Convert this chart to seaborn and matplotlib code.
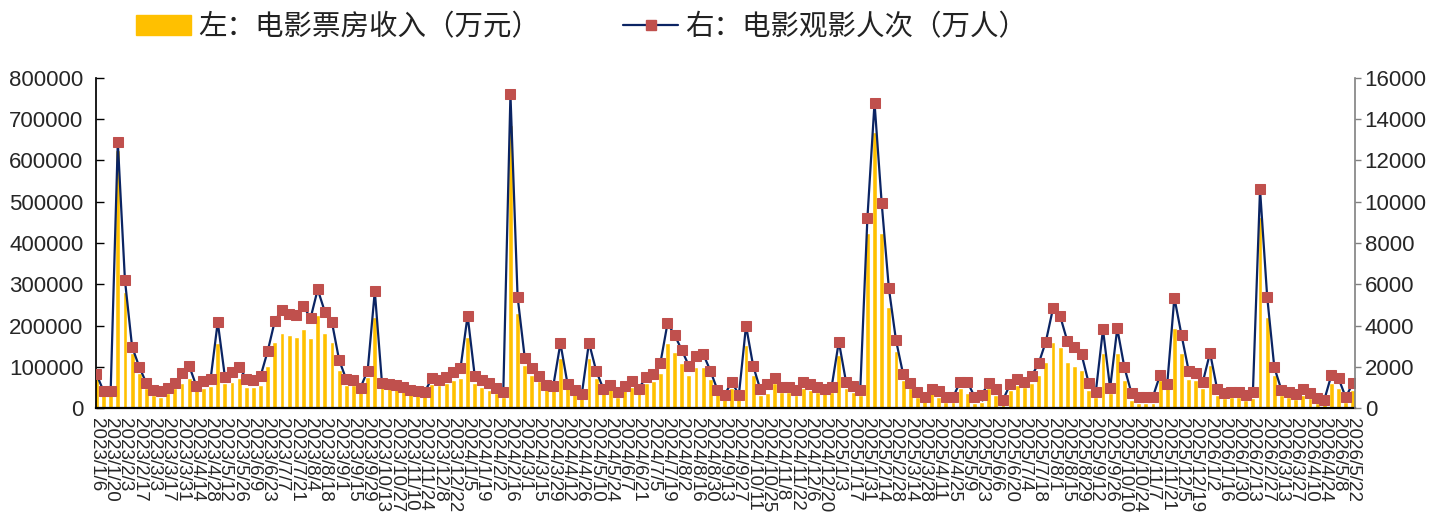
import numpy as np
import pandas as pd
import matplotlib
matplotlib.use("Agg")
import matplotlib.pyplot as plt
import seaborn as sns
from matplotlib.patches import Patch
from matplotlib.lines import Line2D

# weekly dates (week ending Friday)
weeks = pd.date_range("2023-01-06", "2026-05-22", freq="7D")
week_labels = [f"{d.year}/{d.month}/{d.day}" for d in weeks]

# left axis: box office (10k yuan)
box_office = [
    72000, 31500, 31500, 625000, 280400, 132600, 84000, 47700, 31500, 27500,
    35600, 47700, 59800, 72000, 43600, 47700, 53300, 158300, 59800, 63800,
    72000, 50100, 50100, 55800, 101800, 160800, 182600, 177000, 173000, 190800,
    169000, 225500, 182600, 160800, 92100, 55800, 55800, 39600, 76000, 221400,
    59800, 51700, 47700, 43600, 35600, 31500, 29000,
    58200, 55800, 61400, 67900, 72000, 172900, 61400, 51700, 43600, 35600,
    27400, 686000, 229500, 104200, 80000, 66300, 47700, 43600, 120400, 47700,
    35600, 25900, 120400, 72000, 35600, 45200, 27400, 43600, 51700, 35600,
    61400, 66300, 85600, 158300, 136500, 109800, 80000, 100200, 100200, 69500,
    35600, 23400, 47700, 23400, 152700, 80000, 31500, 35600,
    59800, 39600, 39600, 31500, 47700, 43600, 39600, 35600, 39600, 128500,
    47700, 39600, 31500, 423500, 669900, 425100, 245600, 138200, 67900, 47700,
    27400, 19400, 35600, 27400, 15400, 15400, 47700, 35600, 11300, 15400,
    47700, 31500, 11300, 43600, 55800, 51700, 61400, 80000, 112300, 160800,
    148700, 112300, 101800, 92100,
    43600, 27400, 132600, 35600, 133600, 67900, 19400, 11300, 11300, 11300,
    67900, 47700, 193100, 132600, 69500, 67900, 47700, 104200, 31500, 23400,
    25900, 25900, 19400, 23400, 463800, 221400, 80000, 31500, 27400, 21000,
    31500, 23400, 11300, 11300, 59800, 47700, 15400, 43600,
]

# right axis: admissions (10k people)
audience = [
    1650, 820, 820, 12900, 6200, 2970, 2000, 1200, 870, 820,
    990, 1200, 1680, 2040, 1070, 1330, 1410, 4170, 1520, 1730,
    2000, 1410, 1360, 1550, 2760, 4230, 4750, 4560, 4490, 4950,
    4350, 5750, 4670, 4150, 2330, 1390, 1360, 990, 1810, 5660,
    1230, 1160, 1120, 1040, 870, 820, 790,
    1440, 1360, 1520, 1760, 1920, 4480, 1550, 1360, 1230, 990,
    790, 15200, 5400, 2440, 1920, 1570, 1120, 1070, 3140, 1160,
    870, 680, 3170, 1810, 940, 1120, 760, 1070, 1310, 940,
    1520, 1650, 2170, 4100, 3540, 2810, 2040, 2540, 2620, 1810,
    870, 630, 1280, 630, 3990, 2040, 900, 1140,
    1470, 1040, 1040, 870, 1250, 1160, 1040, 940, 1040, 3220,
    1280, 1070, 870, 9200, 14800, 9950, 5830, 3300, 1650, 1200,
    760, 550, 940, 820, 520, 520, 1280, 1280, 550, 630,
    1230, 940, 390, 1160, 1390, 1280, 1550, 2170, 3220, 4830,
    4460, 3250, 2970, 2600,
    1210, 790, 3810, 960, 3860, 1970, 710, 550, 550, 550,
    1600, 1160, 5350, 3540, 1810, 1680, 1280, 2680, 900, 710,
    790, 790, 630, 760, 10600, 5400, 1970, 870, 790, 660,
    940, 710, 470, 390, 1600, 1440, 520, 1200,
]

left_ticks = list(range(0, 800001, 100000))
right_ticks = list(range(0, 16001, 2000))

bar_color = "#FFC000"
line_color = "#0B2463"
marker_color = "#C0504D"

sns.set_theme(style="ticks")
plt.rcParams["font.family"] = ["Liberation Sans", "Noto Sans CJK SC"]

df = pd.DataFrame({"week": week_labels, "box": box_office, "people": audience})
pos = np.arange(len(df))

fig = plt.figure(figsize=(14.29, 5.27), dpi=100)
ax = fig.add_axes([0.0672, 0.2258, 0.8810, 0.6262])

sns.barplot(data=df, x="week", y="box", color=bar_color, saturation=1,
            width=0.68, ax=ax)

ax2 = ax.twinx()
sns.lineplot(x=pos, y=df["people"].values, ax=ax2, color=line_color, lw=1.6,
             marker="s", markersize=7, markerfacecolor=marker_color,
             markeredgecolor=marker_color)

ax.set_xlim(-0.05, len(df) - 0.7)
ax.set_ylim(0, 800000)
ax2.set_ylim(0, 16000)

ax.set_xticks(pos)
ax.set_xticklabels([lab if i % 2 == 0 else "" for i, lab in enumerate(week_labels)])
ax.tick_params(axis="x", direction="in", length=5, width=1, color="black",
               labelsize=13.5, labelrotation=-90, pad=7)

ax.set_yticks(left_ticks)
ax.set_yticklabels([str(t) for t in left_ticks])
ax.tick_params(axis="y", direction="in", length=6, width=1, color="black",
               labelsize=16, pad=9)

ax2.set_yticks(right_ticks)
ax2.set_yticklabels([str(t) for t in right_ticks])
ax2.tick_params(axis="y", direction="out", length=4, width=1, color="#808080",
                labelsize=16, pad=3)

ax.set_xlabel("")
ax.set_ylabel("")
ax2.set_ylabel("")

for s in ["top", "right"]:
    ax.spines[s].set_visible(False)
for s in ["top", "left", "bottom"]:
    ax2.spines[s].set_visible(False)
ax.spines["left"].set_color("black")
ax.spines["bottom"].set_color("black")
ax.spines["bottom"].set_linewidth(1.6)
ax2.spines["right"].set_color("#808080")
ax2.spines["right"].set_linewidth(1.2)

handles = [
    Patch(facecolor=bar_color, edgecolor=bar_color),
    Line2D([], [], color=line_color, lw=1.6, marker="s", markersize=7,
           markerfacecolor=marker_color, markeredgecolor=marker_color),
]
labels = ["左：电影票房收入（万元）", "右：电影观影人次（万人）"]
fig.legend(handles, labels, loc="center", bbox_to_anchor=(0.407, 0.949), ncol=2,
           frameon=False, prop={"family": "Noto Sans CJK SC", "size": 20.5},
           handlelength=1.95, handleheight=0.75, columnspacing=2.9,
           handletextpad=0.25, labelcolor="#222222")

fig.savefig("out.png", dpi=100)
